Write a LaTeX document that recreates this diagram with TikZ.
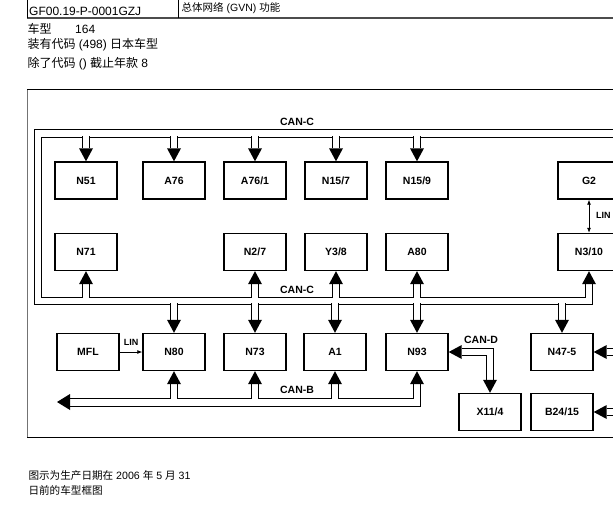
\documentclass[tikz,border=0pt]{standalone}
\usepackage{fontspec}
\setmainfont{Liberation Sans}
\newfontfamily\cjk{Noto Sans CJK SC}
\usetikzlibrary{calc,arrows.meta}
\tikzset{
  box/.style={draw,line width=1.4pt,minimum width=62pt,minimum height=37pt,inner sep=0pt,
    font=\fontsize{10.5}{12}\selectfont\bfseries},
  pipe/.style={line width=0.9pt},
  txt/.style={inner sep=0pt,anchor=base west},
  buslabel/.style={inner sep=0pt,font=\fontsize{10.5}{12}\selectfont\bfseries},
  linlabel/.style={inner sep=0pt,font=\fontsize{9}{10}\selectfont\bfseries},
  linkline/.style={line width=0.8pt},
}
\newcommand\arrdown[2]{%
  \fill (#1.north) -- ++(-7,-13) -- ++(14,0) -- cycle;
  \draw[pipe] ($(#1.north)+(-3.5,-13)$) -- ++(0,-#2);
  \draw[pipe] ($(#1.north)+(3.5,-13)$) -- ++(0,-#2);}
\newcommand\arrup[2]{%
  \fill (#1.south) -- ++(-7,13) -- ++(14,0) -- cycle;
  \draw[pipe] ($(#1.south)+(-3.5,13)$) -- ++(0,#2);
  \draw[pipe] ($(#1.south)+(3.5,13)$) -- ++(0,#2);}
\begin{document}
\begin{tikzpicture}[x=1pt,y=-1pt]
\useasboundingbox (0,0) rectangle (613,511);
\clip (0,0) rectangle (613,511);
% header
\draw[line width=1.6pt,black!70] (27,18) -- (613,18);
\draw[line width=0.9pt] (27.5,0) -- (27.5,18) (178,0) -- (178,18);
\node[txt] (hdA) at (29,15.5) {\fontsize{12}{14}\selectfont GF00.19-P-0001GZJ};
\node[txt] (hdB) at (181.5,11.5) {\fontsize{10.5}{12}\selectfont{\cjk 总体网络} (GVN) {\cjk 功能}};
\node[txt] (l1a) at (27.3,33.2) {\fontsize{12}{14}\selectfont\cjk 车型};
\node[txt] (l1b) at (75,33.2) {\fontsize{12}{14}\selectfont 164};
\node[txt] (l2) at (27.3,48.5) {\fontsize{12}{14}\selectfont{\cjk 装有代码} (498) {\cjk 日本车型}};
\node[txt] (l3) at (27.3,67) {\fontsize{12}{14}\selectfont{\cjk 除了代码} () {\cjk 截止年款} 8};
\node[txt] (b1) at (28.3,479) {\fontsize{10.6}{13}\selectfont{\cjk 图示为生产日期在} 2006 {\cjk 年} 5 {\cjk 月} 31};
\node[txt] (b2) at (28.3,494.7) {\fontsize{10.6}{13}\selectfont\cjk 日前的车型框图};
% frame
\draw[line width=1pt,black!55] (27.5,89.5) -- (27.5,437);
\draw[line width=0.9pt] (27,89.5) -- (613,89.5);
\draw[line width=1pt] (27,437) -- (613,437);
% boxes
\node[box] (n51) at (86,180.5) {N51};
\node[box] (a76) at (174,180.5) {A76};
\node[box] (a761) at (255,180.5) {A76/1};
\node[box] (n157) at (336,180.5) {N15/7};
\node[box] (n159) at (417,180.5) {N15/9};
\node[box] (g2) at (589,180.5) {G2};
\node[box] (n71) at (86,252) {N71};
\node[box] (n27) at (255,252) {N2/7};
\node[box] (y38) at (336,252) {Y3/8};
\node[box] (a80) at (417,252) {A80};
\node[box] (n310) at (589,252) {N3/10};
\node[box] (mfl) at (88,352) {MFL};
\node[box] (n80) at (174,352) {N80};
\node[box] (n73) at (255,352) {N73};
\node[box] (a1) at (335,352) {A1};
\node[box] (n93) at (417,352) {N93};
\node[box] (n475) at (562,352) {N47-5};
\node[box] (x114) at (490,412) {X11/4};
\node[box] (b2415) at (562,412) {B24/15};
% CAN-C pipe, outer line
\draw[pipe] (613,129) -- (34,129) -- (34,304) -- (170.5,304);
\draw[pipe] (177.5,304) -- (251.5,304) (258.5,304) -- (331.5,304)
  (338.5,304) -- (413.5,304) (420.5,304) -- (558.5,304)
  (565.5,304) -- (592.5,304) -- (592.5,283.5);
% CAN-C pipe, inner line
\draw[pipe] (613,137) -- (420.5,137) (413.5,137) -- (339.5,137)
  (332.5,137) -- (258.5,137) (251.5,137) -- (177.5,137)
  (170.5,137) -- (89.5,137);
\draw[pipe] (82.5,137) -- (41,137) -- (41,297) -- (82.5,297);
\draw[pipe] (89.5,297) -- (251.5,297) (258.5,297) -- (332.5,297)
  (339.5,297) -- (413.5,297) (420.5,297) -- (585.5,297) -- (585.5,283.5);
\fill (n310.south) -- ++(-7,13) -- ++(14,0) -- cycle;
% CAN-C branches
\arrdown{n51}{12}\arrdown{a76}{12}\arrdown{a761}{12}\arrdown{n157}{12}\arrdown{n159}{12}
\arrup{n71}{13.5}\arrup{n27}{13.5}\arrup{y38}{13.5}\arrup{a80}{13.5}
\arrdown{n80}{16.5}\arrdown{n73}{16.5}\arrdown{a1}{16.5}\arrdown{n93}{16.5}\arrdown{n475}{16.5}
\node[buslabel] (canc1) at (297,122) {CAN-C};
\node[buslabel] (canc2) at (297,290) {CAN-C};
% CAN-B pipe
\fill (57,402) -- (70,394) -- (70,410) -- cycle;
\draw[pipe] (70,398) -- (170.5,398) (177.5,398) -- (251.5,398)
  (258.5,398) -- (331.5,398) (338.5,398) -- (413.5,398) -- (413.5,383.5);
\draw[pipe] (70,406) -- (420.5,406) -- (420.5,383.5);
\arrup{n80}{14.5}\arrup{n73}{14.5}\arrup{a1}{14.5}
\fill (n93.south) -- ++(-7,13) -- ++(14,0) -- cycle;
\node[buslabel] (canb) at (297,390) {CAN-B};
% CAN-D pipe
\fill (n93.east) -- ++(13,-7) -- ++(0,14) -- cycle;
\draw[pipe] ($(n93.east)+(13,-3.5)$) -- (493.5,348.5) -- (493.5,380.5);
\draw[pipe] ($(n93.east)+(13,3.5)$) -- (486.5,355.5) -- (486.5,380.5);
\fill (x114.north) -- ++(-7,-13) -- ++(14,0) -- cycle;
\node[buslabel] (cand) at (481,340) {CAN-D};
% right edge entries
\fill (n475.east) -- ++(13,-7) -- ++(0,14) -- cycle;
\draw[pipe] ($(n475.east)+(13,-3.5)$) -- ++(10,0) ($(n475.east)+(13,3.5)$) -- ++(10,0);
\fill (b2415.east) -- ++(13,-7) -- ++(0,14) -- cycle;
\draw[pipe] ($(b2415.east)+(13,-3.5)$) -- ++(10,0) ($(b2415.east)+(13,3.5)$) -- ++(10,0);
% LIN links
\draw[linkline,-{Latex[length=5pt,width=4pt]}] (mfl.east) -- (n80.west);
\node[linlabel] (lin1) at (131,342.5) {LIN};
\draw[linkline,{Latex[length=5pt,width=4pt]}-{Latex[length=5pt,width=4pt]}] (g2.south) -- (n310.north);
\node[linlabel,anchor=west] (lin2) at (596,215) {LIN};
\end{tikzpicture}
\end{document}
